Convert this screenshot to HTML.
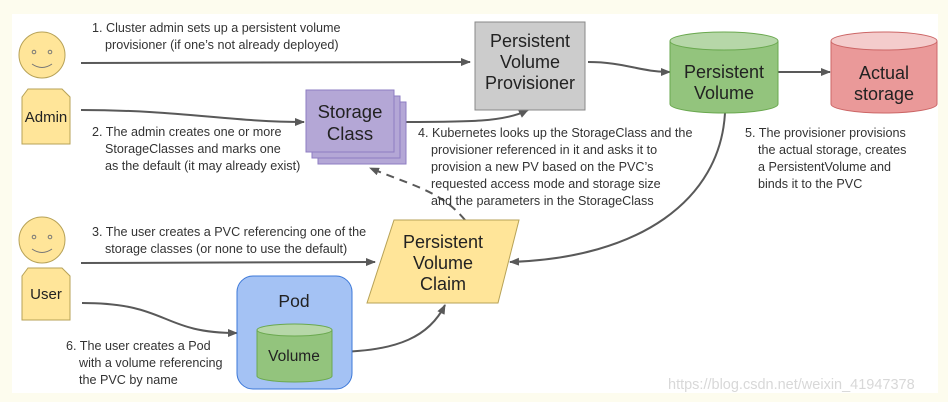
<!DOCTYPE html>
<html><head><meta charset="utf-8"><style>
html,body{margin:0;padding:0;background:#fdfcee;}
svg{display:block;font-family:"Liberation Sans",Arial,sans-serif;}
</style></head><body>
<svg width="948" height="402" viewBox="0 0 948 402" xmlns="http://www.w3.org/2000/svg">
<defs>
<marker id="ah" markerWidth="10" markerHeight="8" refX="9" refY="4" orient="auto" markerUnits="userSpaceOnUse">
<path d="M0,0 L10,4 L0,8 Z" fill="#595959"/></marker>
</defs>
<rect x="0" y="0" width="948" height="402" fill="#fdfcee"/>
<rect x="12" y="14" width="926" height="379" fill="#ffffff"/>

<circle cx="42" cy="55" r="23" fill="#ffe599" stroke="#b7a257" stroke-width="1"/>
<circle cx="34" cy="52" r="1.8" fill="none" stroke="#777"/>
<circle cx="50" cy="52" r="1.8" fill="none" stroke="#777"/>
<path d="M32 64 Q42 71 52 64" fill="none" stroke="#777" stroke-width="1"/>
<path d="M28 89 L62 89 L70 97 L70 144 L22 144 L22 97 Z" fill="#ffe599" stroke="#b7a257"/>
<text x="46" y="122" font-size="15" text-anchor="middle" fill="#222">Admin</text>

<circle cx="42" cy="240" r="23" fill="#ffe599" stroke="#b7a257"/>
<circle cx="34" cy="237" r="1.8" fill="none" stroke="#777"/>
<circle cx="50" cy="237" r="1.8" fill="none" stroke="#777"/>
<path d="M32 249 Q42 256 52 249" fill="none" stroke="#777"/>
<path d="M28 268 L62 268 L70 276 L70 320 L22 320 L22 276 Z" fill="#ffe599" stroke="#b7a257"/>
<text x="46" y="299" font-size="15" text-anchor="middle" fill="#222">User</text>

<g stroke="#595959" stroke-width="2" fill="none" marker-end="url(#ah)">
<path d="M81 63 L470 62"/>
<path d="M81 110 C180 110 230 122 304 122"/>
<path d="M396 122 C470 122 505 122 528 110"/>
<path d="M588 62 C625 62 640 72 670 72"/>
<path d="M778 72 L830 72"/>
<path d="M725 113 C720 200 640 258 510 262"/>
<path d="M81 263 L375 262"/>
<path d="M82 303 C170 303 160 333 237 333"/>
<path d="M332 352 C400 352 430 335 445 305"/>
<path d="M465 220 C440 190 410 185 370 168" stroke-dasharray="8,6"/>
</g>

<rect x="318" y="102" width="88" height="62" fill="#b4a7d6" stroke="#8e7cc3"/>
<rect x="312" y="96" width="88" height="62" fill="#b4a7d6" stroke="#8e7cc3"/>
<rect x="306" y="90" width="88" height="62" fill="#b4a7d6" stroke="#8e7cc3"/>
<text x="350" y="118" font-size="18.5" text-anchor="middle" fill="#222">Storage</text>
<text x="350" y="140" font-size="18.5" text-anchor="middle" fill="#222">Class</text>

<rect x="475" y="22" width="110" height="88" fill="#cccccc" stroke="#888"/>
<text x="530" y="47" font-size="18" text-anchor="middle" fill="#222">Persistent</text>
<text x="530" y="68" font-size="18" text-anchor="middle" fill="#222">Volume</text>
<text x="530" y="89" font-size="18" text-anchor="middle" fill="#222">Provisioner</text>

<path d="M670 41 L670 104 A54 9 0 0 0 778 104 L778 41" fill="#93c47d" stroke="#6aa84f"/>
<ellipse cx="724" cy="41" rx="54" ry="9" fill="#b6d7a8" stroke="#6aa84f"/>
<text x="724" y="78" font-size="18" text-anchor="middle" fill="#222">Persistent</text>
<text x="724" y="99" font-size="18" text-anchor="middle" fill="#222">Volume</text>

<path d="M831 41 L831 104 A53 9 0 0 0 937 104 L937 41" fill="#ea9999" stroke="#cc6666"/>
<ellipse cx="884" cy="41" rx="53" ry="9" fill="#f4cccc" stroke="#cc6666"/>
<text x="884" y="79" font-size="18" text-anchor="middle" fill="#222">Actual</text>
<text x="884" y="100" font-size="18" text-anchor="middle" fill="#222">storage</text>

<path d="M394 220 L519 220 L498 303 L367 303 Z" fill="#ffe599" stroke="#b7a257"/>
<text x="443" y="248" font-size="18" text-anchor="middle" fill="#222">Persistent</text>
<text x="443" y="269" font-size="18" text-anchor="middle" fill="#222">Volume</text>
<text x="443" y="290" font-size="18" text-anchor="middle" fill="#222">Claim</text>

<rect x="237" y="276" width="115" height="113" rx="16" fill="#a4c2f4" stroke="#3c78d8"/>
<text x="294" y="307" font-size="17.5" text-anchor="middle" fill="#222">Pod</text>
<path d="M257 330 L257 376 A37.5 6 0 0 0 332 376 L332 330" fill="#93c47d" stroke="#6aa84f"/>
<ellipse cx="294.5" cy="330" rx="37.5" ry="6" fill="#b6d7a8" stroke="#6aa84f"/>
<text x="294" y="361" font-size="15.5" text-anchor="middle" fill="#222">Volume</text>

<g font-size="12.6" fill="#333">
<text x="92" y="32">1. Cluster admin sets up a persistent volume</text>
<text x="105" y="49">provisioner (if one’s not already deployed)</text>
<text x="92" y="136">2. The admin creates one or more</text>
<text x="105" y="153">StorageClasses and marks one</text>
<text x="105" y="170">as the default (it may already exist)</text>
<text x="418" y="137">4. Kubernetes looks up the StorageClass and the</text>
<text x="431" y="154">provisioner referenced in it and asks it to</text>
<text x="431" y="171">provision a new PV based on the PVC’s</text>
<text x="431" y="188">requested access mode and storage size</text>
<text x="431" y="205">and the parameters in the StorageClass</text>
<text x="745" y="137">5. The provisioner provisions</text>
<text x="758" y="154">the actual storage, creates</text>
<text x="758" y="171">a PersistentVolume and</text>
<text x="758" y="188">binds it to the PVC</text>
<text x="92" y="236">3. The user creates a PVC referencing one of the</text>
<text x="105" y="253">storage classes (or none to use the default)</text>
<text x="66" y="350">6. The user creates a Pod</text>
<text x="79" y="367">with a volume referencing</text>
<text x="79" y="384">the PVC by name</text>
</g>
<text x="668" y="389" font-size="14.5" fill="#d8d8d8">https://blog.csdn.net/weixin_41947378</text>
</svg>
</body></html>
